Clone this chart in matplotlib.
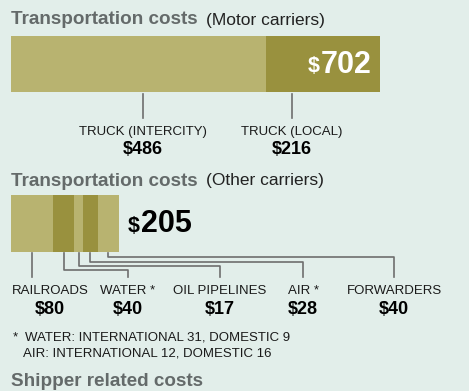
import matplotlib
matplotlib.use("Agg")
import matplotlib.pyplot as plt
import numpy as np

plt.rcParams['font.family'] = ['Liberation Sans', 'DejaVu Sans']

# Data
motor_labels = ['TRUCK (INTERCITY)', 'TRUCK (LOCAL)']
motor_values = [486, 216]
motor_total = 702

other_labels = ['RAILROADS', 'WATER *', 'OIL PIPELINES', 'AIR *', 'FORWARDERS']
other_values = [80, 40, 17, 28, 40]
other_total = 205

footnote = ['WATER: INTERNATIONAL 31, DOMESTIC 9',
            'AIR: INTERNATIONAL 12, DOMESTIC 16']

# Colors
bg = '#e2eeea'
light = '#b8b370'
dark = '#99913e'
title_gray = '#646a6a'
line_gray = '#6e6e6e'

W, H = 469, 391
fig = plt.figure(figsize=(W / 100, H / 100), dpi=100, facecolor=bg)


def bar_axes(top, bottom):
    # both bars share the same dollar scale (0..702 spans x=11..380 px)
    a = fig.add_axes([11 / W, (H - bottom) / H, 369 / W, (bottom - top) / H])
    a.set_xlim(0, motor_total)
    a.set_ylim(0, 1)
    a.axis('off')
    return a


ax1 = bar_axes(36, 92)
ax2 = bar_axes(195, 252)

# overlay axes in pixel coords (for text + leader lines), on top of the bars
ax = fig.add_axes([0, 0, 1, 1])
ax.set_xlim(0, W)
ax.set_ylim(H, 0)
ax.axis('off')
ax.patch.set_alpha(0)


def to_px(a, xval):
    disp = a.transData.transform((xval, 0.5))
    return ax.transData.inverted().transform(disp)[0]


# --- Motor carriers ---
ax.text(11, 20, 'Transportation costs', fontsize=13.6, fontweight='bold',
        color=title_gray, va='center', ha='left')
ax.text(206, 20, '(Motor carriers)', fontsize=12.5, color='#222222',
        va='center', ha='left')

left = np.concatenate([[0], np.cumsum(motor_values)[:-1]])
ax1.barh(0.5, motor_values, left=left, height=1, color=[light, dark])

ax.text(321, 65, f'{motor_total}', fontsize=22, fontweight='bold', color='white',
        va='center', ha='left')
ax.text(320, 67, '$', fontsize=15.5, fontweight='bold', color='white',
        va='center', ha='right')

motor_lx = [143, 292]
for x, lab, v in zip(motor_lx, motor_labels, motor_values):
    ax.plot([x, x], [94, 118], color=line_gray, lw=1.2)
    ax.text(x, 132, lab, fontsize=9.5, ha='center', va='center', color='#1a1a1a')
    ax.text(x, 150, f'${v}', fontsize=13, fontweight='bold', ha='center',
            va='center', color='black')

# --- Other carriers ---
ax.text(11, 181, 'Transportation costs', fontsize=13.6, fontweight='bold',
        color=title_gray, va='center', ha='left')
ax.text(206, 181, '(Other carriers)', fontsize=12.5, color='#222222',
        va='center', ha='left')

left2 = np.concatenate([[0], np.cumsum(other_values)[:-1]])
cols2 = [light, dark, light, dark, light]
ax2.barh(0.5, other_values, left=left2, height=1, color=cols2)

ax.text(141, 224, f'{other_total}', fontsize=22, fontweight='bold', color='black',
        va='center', ha='left')
ax.text(140, 226, '$', fontsize=15.5, fontweight='bold', color='black',
        va='center', ha='right')

label_x = [50, 128, 220, 303, 394]
elbow_y = [None, 270, 266, 262, 257]
for i, (lab, v) in enumerate(zip(other_labels, other_values)):
    cx = to_px(ax2, left2[i] + v / 2)
    if elbow_y[i] is None:
        ax.plot([cx, cx], [253, 277], color=line_gray, lw=1.2)
    else:
        ey = elbow_y[i]
        ax.plot([cx, cx, label_x[i], label_x[i]], [253, ey, ey, 277],
                color=line_gray, lw=1.2)
    ax.text(label_x[i], 291, lab, fontsize=9.5, ha='center', va='center',
            color='#1a1a1a')
    ax.text(label_x[i], 309, f'${v}', fontsize=13, fontweight='bold',
            ha='center', va='center', color='black')

ax.text(13, 337, '*', fontsize=9.5, ha='left', va='center', color='#1a1a1a')
ax.text(25, 337, footnote[0], fontsize=9.5, ha='left', va='center', color='#1a1a1a')
ax.text(23, 354, footnote[1], fontsize=9.5, ha='left', va='center', color='#1a1a1a')

ax.text(11, 381, 'Shipper related costs', fontsize=13.6, fontweight='bold',
        color=title_gray, va='center', ha='left')

fig.savefig('out.png', dpi=100, facecolor=bg)
